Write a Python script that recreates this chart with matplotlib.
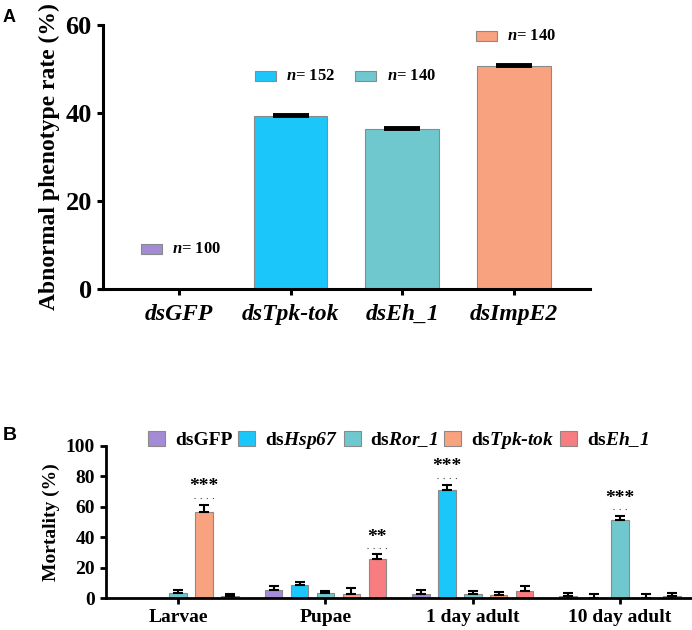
import numpy as np
import matplotlib

matplotlib.use("Agg")
import matplotlib.pyplot as plt
from matplotlib.patches import Rectangle

plt.rcParams["font.family"] = ["Liberation Serif", "DejaVu Serif"]
plt.rcParams["font.weight"] = "bold"
plt.rcParams["axes.labelweight"] = "bold"
plt.rcParams["mathtext.fontset"] = "custom"
plt.rcParams["mathtext.rm"] = "Liberation Serif:bold"
plt.rcParams["mathtext.bf"] = "Liberation Serif:bold"
plt.rcParams["mathtext.it"] = "Liberation Serif:italic:bold"
plt.rcParams["mathtext.bfit"] = "Liberation Serif:italic:bold"

# panel A data
groups_a = ["dsGFP", "dsTpk-tok", "dsEh_1", "dsImpE2"]
rate_a = [0.0, 39.4, 36.3, 50.6]
err_a = [0.0, 0.2, 0.2, 0.2]
n_a = [100, 152, 140, 140]
colors_a = ["#A48BD6", "#1BC6FB", "#70C8CF", "#F9A27F"]
key_y_a = [9.1, 48.4, 48.4, 57.5]
key_dx_a = [-0.34, -0.32, -0.42, -0.34]

# panel B data
stages = ["Larvae", "Pupae", "1 day adult", "10 day adult"]
treat_labels = [
    "dsGFP",
    r"ds$\mathbfit{Hsp67}$",
    r"ds$\mathbfit{Ror\_1}$",
    r"ds$\mathbfit{Tpk}$-$\mathbfit{tok}$",
    r"ds$\mathbfit{Eh\_1}$",
]
treat_colors = ["#A48BD6", "#1BC6FB", "#70C8CF", "#F9A27F", "#F87D80"]
mort_gfp = [0.0, 5.4, 3.0, 1.3]
mort_hsp67 = [0.0, 8.7, 70.8, 0.0]
mort_ror = [3.7, 3.7, 3.0, 51.1]
mort_tpk = [56.8, 3.0, 2.0, 0.0]
mort_eh = [1.5, 26.0, 4.8, 1.7]
err_gfp = [0.0, 2.5, 2.2, 2.2]
err_hsp67 = [0.0, 2.2, 3.2, 3.0]
err_ror = [1.5, 1.1, 1.6, 3.0]
err_tpk = [4.3, 3.5, 2.0, 2.6]
err_eh = [1.3, 2.8, 3.1, 1.6]
# (stage, treatment, stars, star height, dotted line height, dotted half width)
sig_b = [
    (0, 3, "***", 73.2, 66.0, 0.07),
    (1, 4, "**", 40.0, 32.8, 0.07),
    (2, 1, "***", 86.2, 79.0, 0.07),
    (3, 2, "***", 65.3, 58.5, 0.045),
]

mort_b = [mort_gfp, mort_hsp67, mort_ror, mort_tpk, mort_eh]
err_b = [err_gfp, err_hsp67, err_ror, err_tpk, err_eh]


def style_axis(ax, lw, fs):
    for side in ("top", "right"):
        ax.spines[side].set_visible(False)
    for side in ("left", "bottom"):
        ax.spines[side].set_linewidth(lw)
    ax.tick_params(width=lw, length=4.5, labelsize=fs)


fig = plt.figure(figsize=(6.92, 6.30), dpi=100)

# ---- panel A
ax = fig.add_axes([0.1488, 0.5413, 0.7038, 0.419])
x = np.arange(len(groups_a))
ax.bar(x, rate_a, width=0.66, color=colors_a, edgecolor="#8A8A8A", linewidth=0.8, zorder=2)
ax.errorbar(x[1:], rate_a[1:], yerr=[np.zeros(3), err_a[1:]], fmt="none",
            ecolor="black", elinewidth=2, capsize=13, capthick=2.8, zorder=3)
ax.set_xlim(-0.68, 3.68)
ax.set_ylim(0, 60)
ax.set_yticks([0, 20, 40, 60])
ax.set_xticks(x)
ax.set_xticklabels(groups_a, fontstyle="italic", fontsize=17)
style_axis(ax, 2.2, 19)
ax.tick_params(axis="x", labelsize=17, pad=6)
ax.set_ylabel("Abnormal phenotype rate (%)", fontsize=17, fontweight="bold", labelpad=4)
for i in range(len(groups_a)):
    x0 = x[i] + key_dx_a[i]
    ax.add_patch(Rectangle((x0, key_y_a[i] - 1.1), 0.188, 2.2, facecolor=colors_a[i],
                           edgecolor="#8A8A8A", linewidth=0.8, clip_on=False))
    ax.text(x0 + 0.28, key_y_a[i], r"$\mathbfit{n}$= %d" % n_a[i], fontsize=12,
            va="center", ha="left")
fig.text(0.004, 0.985, "A", family="Liberation Sans", fontsize=13, fontweight="bold",
         va="top", ha="left")

# ---- panel B
bx = fig.add_axes([0.1532, 0.0503, 0.845, 0.2422])
xs = np.arange(len(stages))
slot = 0.176
for j in range(len(treat_labels)):
    pos = xs + (j - 2) * slot
    bx.bar(pos, mort_b[j], width=0.119, color=treat_colors[j], edgecolor="#8A8A8A",
           linewidth=0.8, label=treat_labels[j], zorder=2)
    e = np.array(err_b[j])
    keep = e > 0
    bx.errorbar(pos[keep], np.array(mort_b[j])[keep],
                yerr=[np.zeros(keep.sum()), e[keep]], fmt="none", ecolor="black",
                elinewidth=1.5, capsize=3.6, capthick=1.5, zorder=3)
for st, tr, stars, ys, yd, hw in sig_b:
    px = xs[st] + (tr - 2) * slot
    bx.text(px, ys, stars, ha="center", va="center", fontsize=14)
    bx.plot([px - hw, px + hw], [yd, yd], color="#444444", linewidth=0.8,
            linestyle=(0, (1, 4.5)))
bx.set_xlim(-0.49, 3.48)
bx.set_ylim(0, 100)
bx.set_yticks([0, 20, 40, 60, 80, 100])
bx.set_xticks(xs)
bx.set_xticklabels(stages)
style_axis(bx, 2.0, 14)
bx.set_ylabel("Mortality (%)", fontsize=14, fontweight="bold", labelpad=4)
bx.legend(loc="center", bbox_to_anchor=(0.5, 1.034), ncol=5, frameon=False,
          prop={"family": "Liberation Serif", "weight": "bold", "size": 14},
          handlelength=0.87, handleheight=0.77, handletextpad=0.5, columnspacing=0.3,
          borderaxespad=0, borderpad=0)
fig.text(0.004, 0.323, "B", family="Liberation Sans", fontsize=14, fontweight="bold",
         va="top", ha="left")

fig.savefig("out.png", dpi=100)
